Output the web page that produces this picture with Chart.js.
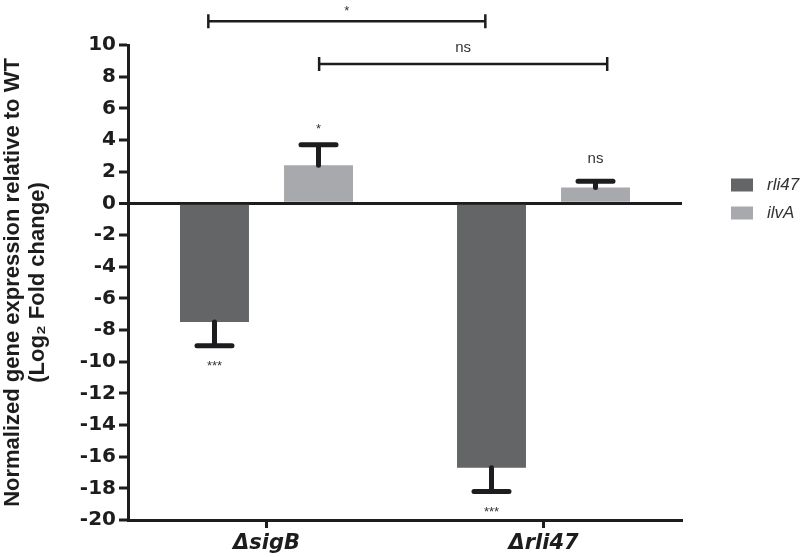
<!DOCTYPE html>
<html><head><meta charset="utf-8">
<script src="https://cdn.jsdelivr.net/npm/chart.js@4/dist/chart.umd.min.js"></script>
<style>html,body{margin:0;padding:0;background:#fff}#wrap{width:800px;height:557px}</style>
</head><body><div id="wrap"><canvas id="c" width="800" height="557"></canvas></div>
<script>
// ---- data ----
const categories = ['\u0394sigB', '\u0394rli47'];
const seriesNames = ['rli47', 'ilvA'];
const rli47Values = [-7.5, -16.7];
const ilvAValues = [2.4, 1.0];
const rli47Errors = [1.5, 1.5];
const ilvAErrors = [1.3, 0.4];
const rli47Sig = ['***', '***'];
const ilvASig = ['*', 'ns'];
const yTicks = [-20, -18, -16, -14, -12, -10, -8, -6, -4, -2, 0, 2, 4, 6, 8, 10];
// comparison brackets (category coordinates, value level, label)
const bracketFrom = [-0.21, 0.19];
const bracketTo = [0.79, 1.23];
const bracketLevel = [11.5, 8.8];
const bracketText = ['*', 'ns'];

const FONT = 'Liberation Sans, Arial, Helvetica, sans-serif';
const WIDE = 'DejaVu Sans, Liberation Sans, Arial, sans-serif';
const INK = '#1d1d1f';
const colors = ['#646567', '#a8a9ac'];
const errs = [rli47Errors, ilvAErrors];
const sigs = [rli47Sig, ilvASig];

Chart.defaults.font.family = FONT;

const overlay = {
  id: 'overlay',
  afterDatasetsDraw(chart) {
    const {ctx, scales: {x, y}} = chart;
    ctx.save();
    // error bars
    chart.data.datasets.forEach((ds, i) => {
      const meta = chart.getDatasetMeta(i);
      meta.data.forEach((bar, j) => {
        const v = ds.data[j], e = errs[i][j];
        const end = v >= 0 ? v + e : v - e;
        const yv = y.getPixelForValue(v), ye = y.getPixelForValue(end);
        ctx.strokeStyle = INK; ctx.lineWidth = 5; ctx.lineCap = 'round';
        ctx.beginPath();
        ctx.moveTo(bar.x, yv); ctx.lineTo(bar.x, ye);
        ctx.moveTo(bar.x - 17.5, ye); ctx.lineTo(bar.x + 17.5, ye);
        ctx.stroke();
        // significance
        const lab = sigs[i][j];
        ctx.fillStyle = '#333';
        ctx.textAlign = 'center'; ctx.textBaseline = 'middle';
        if (lab === 'ns') {
          ctx.font = '15px ' + FONT;
          ctx.fillText(lab, bar.x, v >= 0 ? ye - 22 : ye + 22);
        } else {
          ctx.font = '13px ' + FONT;
          ctx.fillText(lab, bar.x, v >= 0 ? ye - 15 : ye + 21);
        }
      });
    });
    // brackets
    bracketFrom.forEach((f, k) => {
      const x1 = x.getPixelForValue(f), x2 = x.getPixelForValue(bracketTo[k]);
      const yy = y.getPixelForValue(bracketLevel[k]);
      ctx.strokeStyle = INK; ctx.lineWidth = 2.5; ctx.lineCap = 'butt';
      ctx.beginPath();
      ctx.moveTo(x1, yy); ctx.lineTo(x2, yy);
      ctx.moveTo(x1, yy - 7); ctx.lineTo(x1, yy + 7);
      ctx.moveTo(x2, yy - 7); ctx.lineTo(x2, yy + 7);
      ctx.stroke();
      ctx.fillStyle = '#333'; ctx.textAlign = 'center'; ctx.textBaseline = 'middle';
      if (bracketText[k] === 'ns') {
        ctx.font = '15px ' + FONT;
        ctx.fillText(bracketText[k], (x1 + x2) / 2, yy - 16);
      } else {
        ctx.font = '13px ' + FONT;
        ctx.fillText(bracketText[k], (x1 + x2) / 2, yy - 10);
      }
    });
    // legend
    seriesNames.forEach((n, i) => {
      const ly = 185 + i * 28;
      ctx.fillStyle = colors[i];
      ctx.fillRect(731, ly - 6.5, 22, 13);
      ctx.fillStyle = '#333';
      ctx.font = 'italic 17px ' + FONT;
      ctx.textAlign = 'left'; ctx.textBaseline = 'middle';
      ctx.fillText(n, 767, ly);
    });
    ctx.restore();
  }
};

new Chart(document.getElementById('c'), {
  type: 'bar',
  data: {
    labels: categories,
    datasets: [
      {label: seriesNames[0], data: rli47Values, backgroundColor: colors[0], borderWidth: 0},
      {label: seriesNames[1], data: ilvAValues, backgroundColor: colors[1], borderWidth: 0}
    ]
  },
  options: {
    responsive: false,
    devicePixelRatio: 1,
    animation: false,
    categoryPercentage: 0.751,
    barPercentage: 0.663,
    layout: {padding: {top: 45, right: 118, left: 0, bottom: 0}},
    plugins: {legend: {display: false}, tooltip: {enabled: false}},
    scales: {
      x: {
        grid: {offset: false, drawOnChartArea: false, drawTicks: true, tickLength: 8, tickWidth: 3, tickColor: INK},
        border: {display: true, width: 3, color: INK},
        ticks: {color: INK, padding: 3, font: {family: WIDE, size: 21, weight: 'bold', style: 'italic'}},
        afterFit(s) { s.height = 37; }
      },
      y: {
        min: -20, max: 10,
        afterBuildTicks(s) { s.ticks = yTicks.map(v => ({value: v})); },
        grid: {
          drawOnChartArea: true, drawTicks: true, tickLength: 9, tickWidth: 3, tickColor: INK,
          color: c => (c.tick && c.tick.value === 0) ? INK : 'rgba(0,0,0,0)',
          lineWidth: c => (c.tick && c.tick.value === 0) ? 3 : 0
        },
        border: {display: true, width: 3, color: INK},
        ticks: {color: INK, padding: 3, font: {family: WIDE, size: 20, weight: 'bold'}},
        title: {
          display: true,
          text: ['Normalized gene expression relative to WT', '(Log\u2082 Fold change)'],
          color: INK, font: {size: 22, weight: 'bold', lineHeight: 1.15},
          padding: {top: 0, bottom: 0}
        },
        afterFit(s) { s.width = 128; }
      }
    }
  },
  plugins: [overlay]
});
</script></body></html>
